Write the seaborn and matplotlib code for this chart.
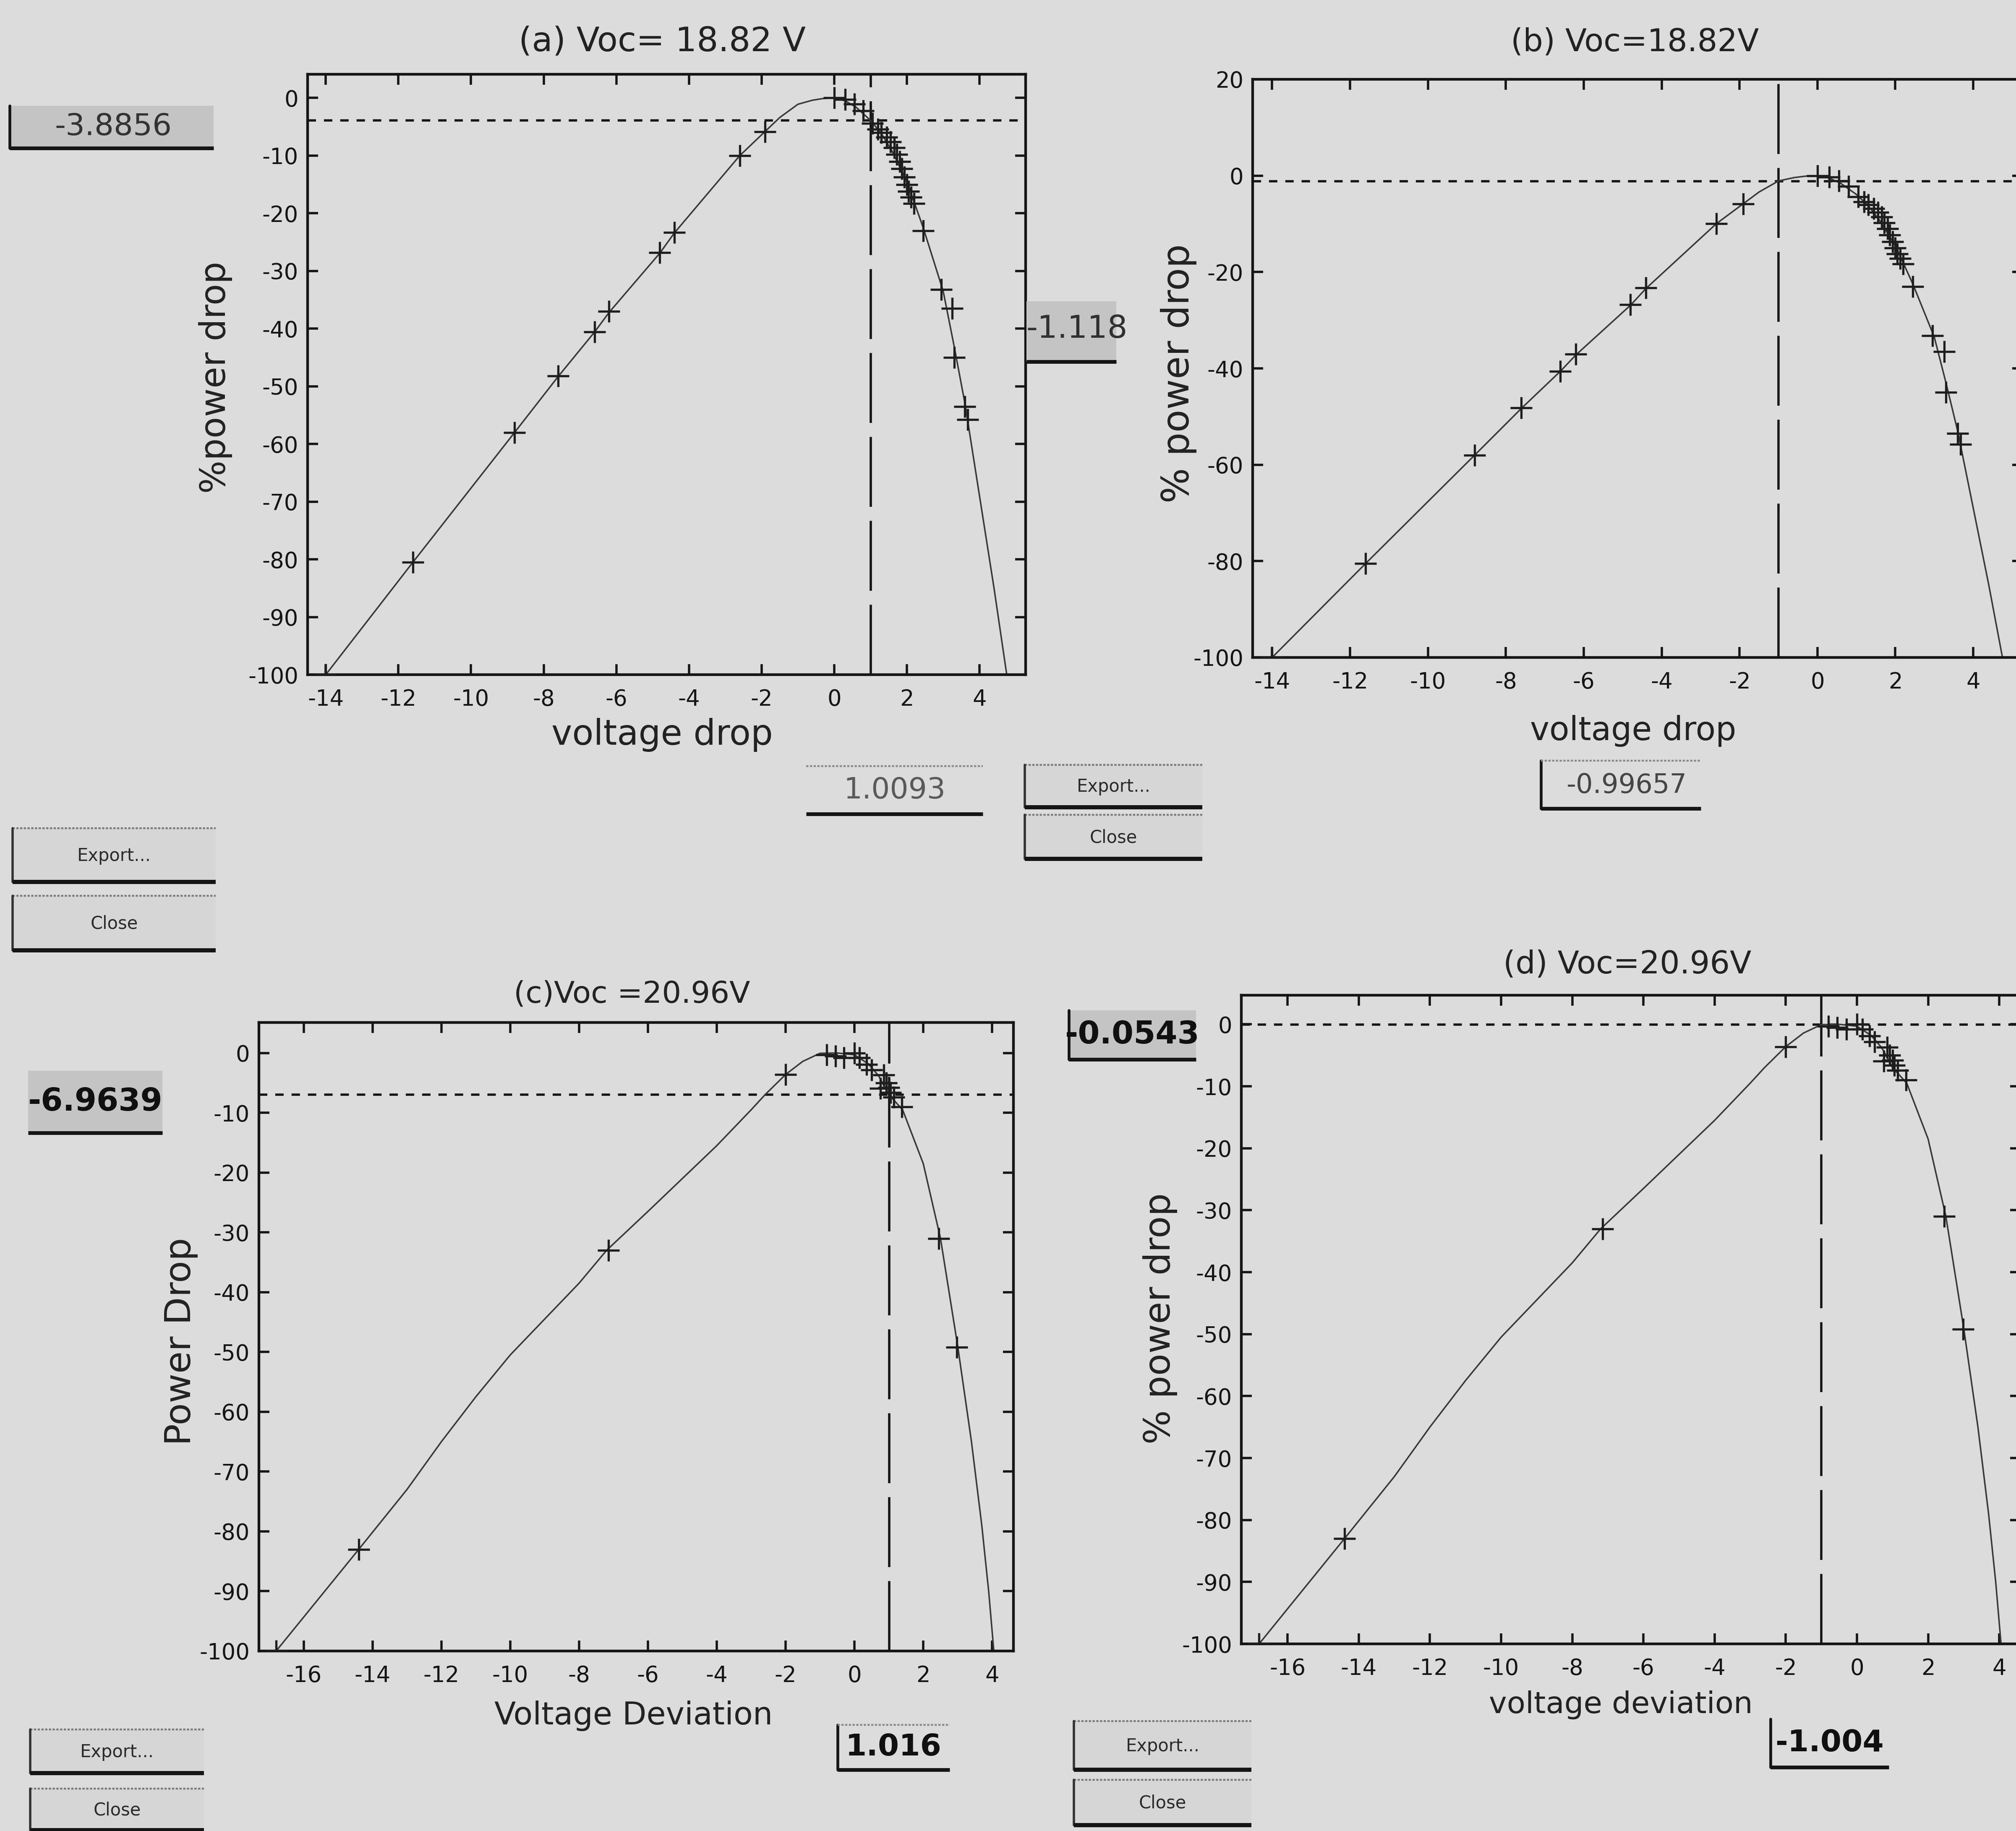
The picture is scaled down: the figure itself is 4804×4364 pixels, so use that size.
import matplotlib
matplotlib.use("Agg")
import matplotlib.pyplot as plt
import seaborn as sns
from matplotlib.patches import Rectangle

# ---------------- data ----------------
# Voc = 18.82 V  (panels a and b): model curve and measured points
curve_v_1882 = [-14.0, -11.6, -8.8, -7.6, -6.6, -6.2, -4.8, -4.4, -2.6, -1.9, -1.5, -1.0,
                -0.6, -0.3, 0.0, 0.3, 0.6, 1.0, 1.3, 1.6, 2.0, 2.45, 3.0, 3.3, 3.6, 4.0,
                4.4, 4.75]
curve_p_1882 = [-100.0, -80.5, -58.0, -48.3, -40.6, -37.2, -26.9, -23.4, -10.0, -5.8, -3.4,
                -1.1, -0.4, -0.1, 0.0, -0.5, -1.6, -3.9, -6.2, -9.3, -14.5, -22.5, -33.5,
                -43.0, -53.0, -69.0, -85.0, -100.0]
meas_v_1882 = [-14.0, -11.6, -8.8, -7.6, -6.6, -6.2, -4.8, -4.4, -2.6, -1.9, 0.0, 0.3, 0.55,
               0.8, 1.05, 1.2, 1.3, 1.45, 1.55, 1.65, 1.72, 1.8, 1.86, 1.93, 2.0, 2.05, 2.12,
               2.2, 2.45, 2.95, 3.25, 3.3, 3.6, 3.68]
meas_p_1882 = [-100.0, -80.5, -58.0, -48.2, -40.6, -37.0, -26.8, -23.3, -10.0, -5.9, 0.0, -0.3,
               -1.1, -2.2, -4.4, -5.4, -6.0, -6.8, -7.6, -8.6, -9.8, -11.0, -12.3, -13.7,
               -15.0, -16.2, -17.2, -18.3, -23.0, -33.2, -36.5, -45.0, -53.5, -55.8]

# Voc = 20.96 V  (panels c and d)
curve_v_2096 = [-16.8, -15.6, -14.4, -13.0, -12.0, -11.0, -10.0, -9.0, -8.0, -7.2, -6.0, -5.0,
                -4.0, -3.0, -2.6, -2.0, -1.5, -1.0, -0.5, 0.0, 0.4, 0.7, 1.0, 1.4, 2.0, 2.5,
                3.0, 3.4, 3.7, 3.9, 4.05]
curve_p_2096 = [-100.0, -91.5, -83.0, -73.0, -65.0, -57.5, -50.5, -44.5, -38.5, -33.0, -26.5,
                -21.0, -15.5, -9.5, -7.0, -3.6, -1.4, -0.05, 0.0, -0.3, -1.8, -3.8, -6.96,
                -9.5, -18.5, -31.0, -49.0, -65.0, -79.0, -90.0, -100.0]
meas_v_2096 = [-16.8, -14.4, -7.15, -2.0, -0.8, -0.55, -0.3, 0.0, 0.15, 0.35, 0.5, 0.75, 0.85,
               0.92, 1.0, 1.05, 1.15, 1.38, 2.45, 2.98]
meas_p_2096 = [-100.0, -83.0, -33.0, -3.6, -0.3, -0.5, -0.8, 0.0, -0.8, -1.9, -2.8, -5.9, -3.7,
               -5.0, -5.8, -6.6, -7.4, -9.0, -31.0, -49.2]

panel_titles = ["(a) Voc= 18.82 V", "(b) Voc=18.82V", "(c)Voc =20.96V", "(d) Voc=20.96V"]
panel_xlabels = ["voltage drop", "voltage drop", "Voltage Deviation", "voltage deviation"]
panel_ylabels = ["%power drop", "% power drop", "Power Drop", "% power drop"]
cursor_v = [1.0093, -0.99657, 1.016, -1.004]
cursor_p = [-3.8856, -1.118, -6.9639, -0.0543]
cursor_v_text = ["1.0093", "-0.99657", "1.016", "-1.004"]
cursor_p_text = ["-3.8856", "-1.118", "-6.9639", "-0.0543"]
xticks_1882 = [-14, -12, -10, -8, -6, -4, -2, 0, 2, 4]
xticks_2096 = [-16, -14, -12, -10, -8, -6, -4, -2, 0, 2, 4]
yticks_step10 = [0, -10, -20, -30, -40, -50, -60, -70, -80, -90, -100]
yticks_step20 = [20, 0, -20, -40, -60, -80, -100]
button_labels = ["Export...", "Close"]

# ---------------- style ----------------
W, H = 4804, 4364
DPI = 200
BG = "#dcdcdc"
BOXFILL = "#c4c4c4"
INK = "#151515"

sns.set_theme(style="ticks")
plt.rcParams["font.family"] = ["DejaVu Sans"]
plt.rcParams["axes.unicode_minus"] = False

fig = plt.figure(figsize=(W / DPI, H / DPI), dpi=DPI, facecolor=BG)

# panel geometry in pixels: left, top, right, bottom ; plus limits
panels = [
    dict(box=(733, 177, 2444, 1608), xlim=(-14.5, 5.27), ylim=(-100, 4.1),
         xt=xticks_1882, yt=yticks_step10, cv="1882",
         title_xy=(1578, 100), tsize=29, xl_xy=(1578, 1752), xlsize=30,
         yl_xy=(514, 900), ylsize=30),
    dict(box=(2985, 189, 4820, 1567), xlim=(-14.5, 5.27), ylim=(-100, 20),
         xt=xticks_1882, yt=yticks_step20, cv="1882",
         title_xy=(3896, 102), tsize=27, xl_xy=(3892, 1742), xlsize=28,
         yl_xy=(2808, 890), ylsize=32),
    dict(box=(617, 2437, 2415, 3935), xlim=(-17.3, 4.62), ylim=(-100, 5.1),
         xt=xticks_2096, yt=yticks_step10, cv="2096",
         title_xy=(1506, 2370), tsize=26, xl_xy=(1510, 4090), xlsize=27,
         yl_xy=(430, 3197), ylsize=31),
    dict(box=(2958, 2372, 4815, 3918), xlim=(-17.3, 4.6), ylim=(-100, 4.7),
         xt=xticks_2096, yt=yticks_step10, cv="2096",
         title_xy=(3878, 2300), tsize=27, xl_xy=(3862, 4063), xlsize=26,
         yl_xy=(2765, 3142), ylsize=31),
]

series = {
    "1882": (curve_v_1882, curve_p_1882, meas_v_1882, meas_p_1882),
    "2096": (curve_v_2096, curve_p_2096, meas_v_2096, meas_p_2096),
}

for i, p in enumerate(panels):
    l, t, r, b = p["box"]
    ax = fig.add_axes([l / W, 1 - b / H, (r - l) / W, (b - t) / H])
    ax.set_facecolor(BG)
    cvx, cpy, mvx, mpy = series[p["cv"]]
    sns.lineplot(x=cvx, y=cpy, ax=ax, color="#3a3a3a", linewidth=1.3,
                 sort=False, estimator=None, zorder=2)
    sns.scatterplot(x=mvx, y=mpy, ax=ax, marker="+", s=340, color="#1e1e1e",
                    linewidth=1.9, zorder=3)
    ax.axhline(cursor_p[i], color=INK, linewidth=2.0, linestyle=(0, (3.6, 3.4)), zorder=1)
    ax.axvline(cursor_v[i], color=INK, linewidth=2.0, linestyle=(0, (30, 6)), zorder=1)
    ax.set_xlim(*p["xlim"])
    ax.set_ylim(*p["ylim"])
    ax.set_xticks(p["xt"])
    ax.set_yticks(p["yt"])
    ax.tick_params(direction="in", top=True, right=True, length=9, width=2.0,
                   labelsize=19, colors=INK)
    ax.tick_params(axis="x", pad=12)
    ax.tick_params(axis="y", pad=8)
    for s in ax.spines.values():
        s.set_linewidth(2.3)
        s.set_color(INK)
        s.set_visible(True)
    # title
    tx = (p["title_xy"][0] - l) / (r - l)
    ty = (b - p["title_xy"][1]) / (b - t)
    ax.set_title(panel_titles[i], fontsize=p["tsize"], x=tx, y=ty, va="center",
                 color="#222222", pad=0)
    # axis labels
    ax.set_xlabel(panel_xlabels[i], fontsize=p["xlsize"], color="#222222")
    ax.set_ylabel(panel_ylabels[i], fontsize=p["ylsize"], color="#222222")
    ax.xaxis.label.set_va("center")
    ax.yaxis.label.set_va("center")
    ax.xaxis.set_label_coords(p["xl_xy"][0] / W, 1 - p["xl_xy"][1] / H,
                              transform=fig.transFigure)
    ax.yaxis.set_label_coords(p["yl_xy"][0] / W, 1 - p["yl_xy"][1] / H,
                              transform=fig.transFigure)

# ---------------- GUI widgets (value boxes and buttons) ----------------
ov = fig.add_axes([0, 0, 1, 1], zorder=10)
ov.set_xlim(0, W)
ov.set_ylim(H, 0)
ov.axis("off")
ov.patch.set_alpha(0)


def value_box(x0, y0, x1, y1, text, fill, size, bold=False, color="#303030",
              left=True, top=False, cx=None, cy=None):
    ov.add_patch(Rectangle((x0, y0), x1 - x0, y1 - y0, facecolor=fill,
                           edgecolor="none", zorder=1))
    ov.plot([x0, x1], [y1, y1], color=INK, lw=3.2, solid_capstyle="butt", zorder=2)
    if left:
        ov.plot([x0, x0], [y0, y1], color=INK, lw=2.4, zorder=2)
    if top:
        ov.plot([x0, x1], [y0, y0], color="#8a8a8a", lw=1.6, linestyle=(0, (1.2, 0.8)),
                zorder=2)
    ov.text((x0 + x1) / 2 if cx is None else cx, (y0 + y1) / 2 if cy is None else cy,
            text, ha="center", va="center", fontsize=size,
            fontweight="bold" if bold else "normal", color=color, zorder=3)


def button(x0, y0, x1, y1, text, size=15):
    ov.add_patch(Rectangle((x0, y0), x1 - x0, y1 - y0, facecolor="#d6d6d6",
                           edgecolor="none", zorder=1))
    ov.plot([x0, x1], [y0, y0], color="#7a7a7a", lw=1.6, linestyle=(0, (1.2, 0.8)), zorder=2)
    ov.plot([x0, x0], [y0, y1], color="#333333", lw=2.0, zorder=2)
    ov.plot([x0, x1], [y1, y1], color=INK, lw=3.6, solid_capstyle="butt", zorder=2)
    ov.text((x0 + x1) / 2, (y0 + y1) / 2 + 2, text, ha="center", va="center",
            fontsize=size, color="#2a2a2a", zorder=3)


# panel (a)
value_box(23, 252, 509, 353, cursor_p_text[0], BOXFILL, 26, color="#333333", cx=270)
value_box(1921, 1826, 2342, 1940, cursor_v_text[0], BG, 25, color="#5a5a5a",
          left=False, top=True)
button(30, 1974, 514, 2102, button_labels[0])
button(30, 2135, 514, 2265, button_labels[1])
# panel (b)
value_box(2446, 718, 2660, 862, cursor_p_text[1], BOXFILL, 27, color="#303030",
          left=False, cx=2566, cy=785)
value_box(3672, 1813, 4053, 1927, cursor_v_text[1], BG, 23, color="#454545", top=True,
          cx=3877, cy=1872)
button(2442, 1823, 2865, 1924, button_labels[0])
button(2442, 1942, 2865, 2047, button_labels[1])
# panel (c)
value_box(67, 2552, 387, 2700, cursor_p_text[2], BOXFILL, 27, bold=True, color="#101010",
          left=False)
value_box(1996, 4111, 2263, 4218, cursor_v_text[2], BG, 26, bold=True, color="#101010",
          top=True)
button(72, 4122, 486, 4226, button_labels[0])
button(72, 4263, 486, 4362, button_labels[1])
# panel (d)
value_box(2547, 2408, 2850, 2525, cursor_p_text[3], BOXFILL, 27, bold=True, color="#101010")
value_box(4219, 4097, 4501, 4212, cursor_v_text[3], BG, 26, bold=True, color="#101010")
button(2559, 4102, 2982, 4218, button_labels[0])
button(2559, 4242, 2982, 4350, button_labels[1])

fig.savefig("out.png", dpi=DPI, facecolor=BG)
